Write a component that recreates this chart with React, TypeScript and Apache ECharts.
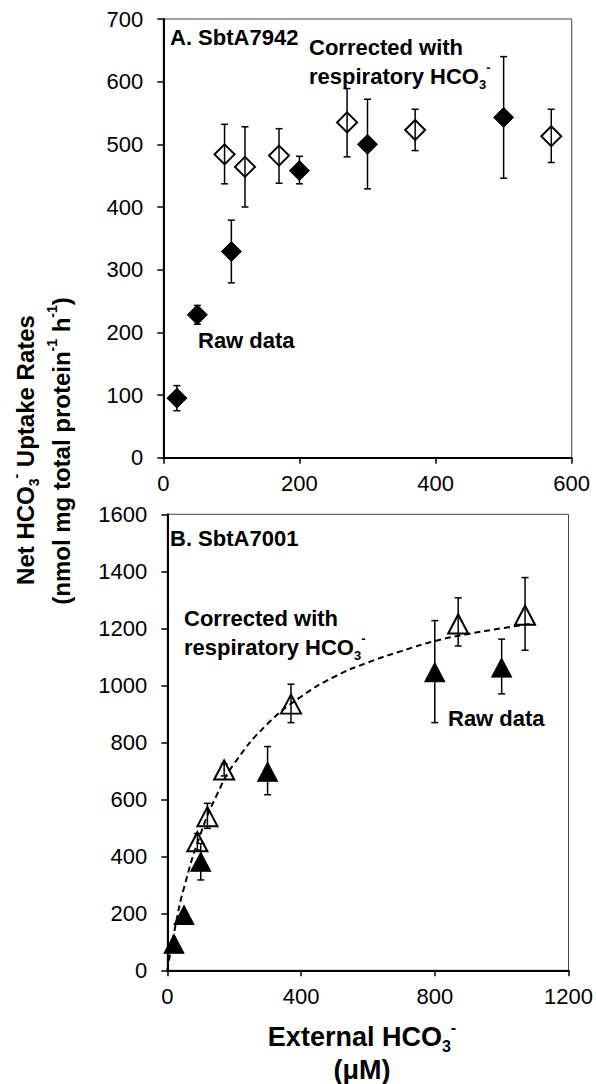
import React, { useEffect, useRef } from 'react';
import * as echarts from 'echarts';

const FF = "'Liberation Sans', Arial, Helvetica, sans-serif";

// ---------- Panel A: SbtA7942 ----------
const aRawX = [20, 50, 100, 200, 300, 500];
const aRawY = [95, 228, 329, 458, 500, 543];
const aRawLo = [75, 213, 279, 437, 429, 446];
const aRawHi = [115, 243, 379, 481, 572, 640];

const aCorX = [90, 120, 170, 270, 370, 570];
const aCorY = [484, 464, 482, 535, 523, 513];
const aCorLo = [437, 400, 438, 480, 490, 471];
const aCorHi = [532, 528, 525, 589, 556, 556];

// ---------- Panel B: SbtA7001 ----------
const bRawX = [20, 50, 100, 300, 800, 1000];
const bRawY = [93, 194, 381, 697, 1046, 1062];
const bRawLo = [86, 186, 317, 616, 869, 970];
const bRawHi = [100, 202, 445, 785, 1227, 1162];

const bCorX = [90, 120, 170, 370, 870, 1070];
const bCorY = [451, 539, 703, 934, 1215, 1246];
const bCorLo = [422, 498, 682, 869, 1138, 1123];
const bCorHi = [480, 586, 724, 1004, 1307, 1378];

// dashed fitted curve
const fitX = [0, 25, 50, 100, 150, 200, 300, 400, 500, 600, 700, 800, 900, 1000, 1100];
const fitY = [0, 160, 290, 480, 620, 725, 865, 960, 1030, 1080, 1120, 1155, 1180, 1200, 1218];

const pts = (xs: number[], ys: number[]) => xs.map((x, i) => [x, ys[i]]);
const errs = (xs: number[], lo: number[], hi: number[]) => xs.map((x, i) => [x, lo[i], hi[i]]);

function errRender(params: any, api: any) {
  const x = api.value(0);
  const lo = api.value(1);
  const hi = api.value(2);
  const p1 = api.coord([x, hi]);
  const p2 = api.coord([x, lo]);
  const cap = 3.5;
  const st = { stroke: '#000', lineWidth: 1.5 };
  return {
    type: 'group',
    children: [
      { type: 'line', shape: { x1: p1[0], y1: p1[1], x2: p2[0], y2: p2[1] }, style: st },
      { type: 'line', shape: { x1: p1[0] - cap, y1: p1[1], x2: p1[0] + cap, y2: p1[1] }, style: st },
      { type: 'line', shape: { x1: p2[0] - cap, y1: p2[1], x2: p2[0] + cap, y2: p2[1] }, style: st },
    ],
  };
}

function rich(size: number, subSize: number) {
  return {
    b: { fontSize: size, fontWeight: 'bold', fontFamily: FF, fill: '#000', lineHeight: size + 8, verticalAlign: 'middle' },
    sub: { fontSize: subSize, fontWeight: 'bold', fontFamily: FF, fill: '#000', lineHeight: subSize, verticalAlign: 'bottom' },
    sup: { fontSize: subSize, fontWeight: 'bold', fontFamily: FF, fill: '#000', lineHeight: subSize, verticalAlign: 'top' },
  };
}

function label(x: number, y: number, text: string, size = 22, align = 'left', rotation = 0) {
  return {
    type: 'text',
    x,
    y,
    rotation,
    z: 100,
    style: {
      text,
      rich: rich(size, Math.round(size * 0.6)),
      align,
      verticalAlign: 'middle',
      fill: '#000',
      font: `bold ${size}px ${FF}`,
    },
  };
}

const plain = (v: number) => String(v);

function axisX(gridIndex: number, max: number, interval: number) {
  return {
    type: 'value',
    gridIndex,
    min: 0,
    max,
    interval,
    axisLine: { show: true, onZero: false, lineStyle: { color: '#000', width: 2 } },
    axisTick: { show: true, length: 6, lineStyle: { color: '#000', width: 1.5 } },
    axisLabel: { fontSize: 22, color: '#000', fontFamily: FF, margin: 15, formatter: plain },
    splitLine: { show: false },
  };
}

function axisY(gridIndex: number, max: number, interval: number) {
  return {
    type: 'value',
    gridIndex,
    min: 0,
    max,
    interval,
    axisLine: { show: true, onZero: false, lineStyle: { color: '#000', width: 2 } },
    axisTick: { show: true, length: 6, lineStyle: { color: '#000', width: 1.5 } },
    axisLabel: { fontSize: 22, color: '#000', fontFamily: FF, margin: 20, formatter: plain },
    splitLine: { show: false },
  };
}

export default function App() {
  const ref = useRef<HTMLDivElement>(null);
  useEffect(() => {
    if (!ref.current) return;
    const chart = echarts.init(ref.current, null, { renderer: 'svg' });
    const openStyle = { color: '#fff', borderColor: '#000', borderWidth: 2, opacity: 1 };
    const fillStyle = { color: '#000', borderColor: '#000', borderWidth: 1, opacity: 1 };
    chart.setOption({
      animation: false,
      backgroundColor: '#fff',
      grid: [
        { left: 163.3, top: 19, width: 408.4, height: 438.7, show: true, borderColor: '#444', borderWidth: 1, backgroundColor: 'transparent' },
        { left: 167.3, top: 514.3, width: 403.7, height: 456, show: true, borderColor: '#444', borderWidth: 1, backgroundColor: 'transparent' },
      ],
      xAxis: [axisX(0, 600, 200), axisX(1, 1200, 400)],
      yAxis: [axisY(0, 700, 100), axisY(1, 1600, 200)],
      series: [
        // Panel A
        { type: 'scatter', xAxisIndex: 0, yAxisIndex: 0, symbol: 'diamond', symbolSize: 20, itemStyle: fillStyle, data: pts(aRawX, aRawY), z: 2 },
        { type: 'scatter', xAxisIndex: 0, yAxisIndex: 0, symbol: 'diamond', symbolSize: 20, itemStyle: openStyle, data: pts(aCorX, aCorY), z: 2 },
        { type: 'custom', xAxisIndex: 0, yAxisIndex: 0, renderItem: errRender, encode: { x: 0, y: [1, 2] }, data: errs(aRawX, aRawLo, aRawHi), z: 3 },
        { type: 'custom', xAxisIndex: 0, yAxisIndex: 0, renderItem: errRender, encode: { x: 0, y: [1, 2] }, data: errs(aCorX, aCorLo, aCorHi), z: 3 },
        // Panel B
        { type: 'scatter', xAxisIndex: 1, yAxisIndex: 1, symbol: 'triangle', symbolSize: [20, 19], itemStyle: fillStyle, data: pts(bRawX, bRawY), z: 2 },
        { type: 'scatter', xAxisIndex: 1, yAxisIndex: 1, symbol: 'triangle', symbolSize: [20, 19], itemStyle: openStyle, data: pts(bCorX, bCorY), z: 2 },
        { type: 'custom', xAxisIndex: 1, yAxisIndex: 1, renderItem: errRender, encode: { x: 0, y: [1, 2] }, data: errs(bRawX, bRawLo, bRawHi), z: 3 },
        { type: 'custom', xAxisIndex: 1, yAxisIndex: 1, renderItem: errRender, encode: { x: 0, y: [1, 2] }, data: errs(bCorX, bCorLo, bCorHi), z: 3 },
        {
          type: 'line', xAxisIndex: 1, yAxisIndex: 1, data: pts(fitX, fitY), smooth: true, showSymbol: false, symbol: 'none',
          lineStyle: { color: '#000', width: 2, type: [6, 4] }, z: 4,
        },
      ],
      graphic: [
        label(170, 37, '{b|A. SbtA7942}'),
        label(309, 47, '{b|Corrected with}'),
        label(309, 76, '{b|respiratory HCO}{sub|3}{sup|-}'),
        label(198, 340, '{b|Raw data}'),
        label(170, 538, '{b|B. SbtA7001}'),
        label(184, 618, '{b|Corrected with}'),
        label(184, 647, '{b|respiratory HCO}{sub|3}{sup|-}'),
        label(448, 718, '{b|Raw data}'),
        label(25, 450, '{b|Net HCO}{sub|3}{sup|-}{b| Uptake Rates}', 24, 'center', Math.PI / 2),
        label(61, 451, '{b|(nmol mg total protein}{sup|-1}{b| h}{sup|-1}{b|)}', 24, 'center', Math.PI / 2),
        label(362, 1037, '{b|External HCO}{sub|3}{sup|-}', 27, 'center'),
        label(362, 1070, '{b|(μM)}', 27, 'center'),
      ],
    });
    return () => chart.dispose();
  }, []);
  return <div ref={ref} style={{ position: 'absolute', left: 0, top: 0, width: 596, height: 1084 }} />;
}
